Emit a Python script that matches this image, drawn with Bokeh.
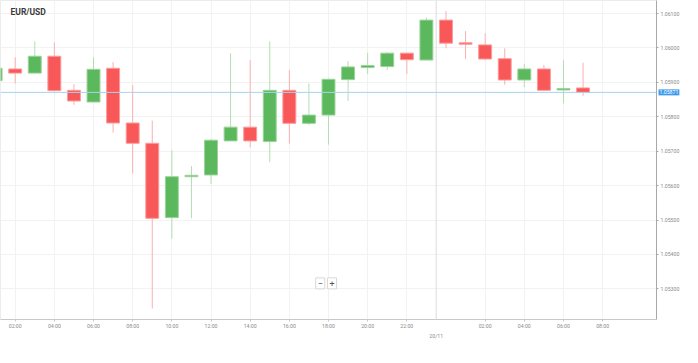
from bokeh.plotting import figure
from bokeh.models import (Range1d, FixedTicker, LinearAxis, PrintfTickFormatter,
                          Span, Label, ColumnDataSource)
from bokeh.embed import file_html
from bokeh.resources import INLINE

symbol = "EUR/USD"
candle_times = ["01:00", "02:00", "03:00", "04:00", "05:00", "06:00", "07:00", "08:00",
                "09:00", "10:00", "11:00", "12:00", "13:00", "14:00", "15:00", "16:00",
                "17:00", "18:00", "19:00", "20:00", "21:00", "22:00", "23:00",
                "00:00", "01:00", "02:00", "03:00", "04:00", "05:00", "06:00", "07:00"]
candle_days = [0] * 23 + [1] * 8
opens = [1.05905, 1.05939, 1.05927, 1.05976, 1.05877, 1.05843, 1.05941, 1.05782,
         1.05723, 1.05507, 1.05626, 1.05631, 1.05730, 1.05770, 1.05728, 1.05877,
         1.05781, 1.05805, 1.05908, 1.05943, 1.05946, 1.05985, 1.05965,
         1.06081, 1.06015, 1.06009, 1.05969, 1.05907, 1.05939, 1.05878, 1.05884]
highs = [1.05946, 1.05973, 1.06019, 1.06016, 1.05895, 1.05973, 1.05959, 1.05892,
         1.05789, 1.05703, 1.05657, 1.05735, 1.05984, 1.05965, 1.06019, 1.05936,
         1.05897, 1.05911, 1.05962, 1.05986, 1.05988, 1.05986, 1.06088,
         1.06107, 1.06049, 1.06043, 1.05999, 1.05954, 1.05951, 1.05965, 1.05957]
lows = [1.05903, 1.05897, 1.05926, 1.05874, 1.05835, 1.05843, 1.05754, 1.05635,
        1.05243, 1.05446, 1.05505, 1.05605, 1.05730, 1.05711, 1.05668, 1.05722,
        1.05776, 1.05719, 1.05846, 1.05924, 1.05936, 1.05924, 1.05964,
        1.05999, 1.05968, 1.05965, 1.05893, 1.05886, 1.05877, 1.05839, 1.05861]
closes = [1.05941, 1.05927, 1.05976, 1.05876, 1.05846, 1.05938, 1.05782, 1.05723,
          1.05505, 1.05626, 1.05630, 1.05732, 1.05770, 1.05730, 1.05877, 1.05781,
          1.05805, 1.05909, 1.05945, 1.05949, 1.05985, 1.05966, 1.06081,
          1.06014, 1.06011, 1.05968, 1.05907, 1.05939, 1.05877, 1.05882, 1.05871]
current_price = 1.05871

tick_labels = ["02:00", "04:00", "06:00", "08:00", "10:00", "12:00", "14:00", "16:00",
               "18:00", "20:00", "22:00", "02:00", "04:00", "06:00", "08:00"]
tick_days = [0] * 11 + [1] * 4
date_label = "20/11"
price_ticks = [1.053, 1.054, 1.055, 1.056, 1.057, 1.058, 1.059, 1.060, 1.061]

FONT = "Roboto"
GREEN, GREEN_LINE, GREEN_WICK = "#5cb85c", "#9ad49a", "#b3deb3"
RED, RED_LINE, RED_WICK = "#f95858", "#fb9b9b", "#fbb0b0"

first_hour = int(candle_times[0][:2])


def slot(day, hhmm):
    return day * 24 + int(hhmm[:2]) - first_hour


idx = [slot(d, t) for d, t in zip(candle_days, candle_times)]
up = [c >= o for o, c in zip(opens, closes)]


def subset(flag):
    sel = [i for i, u in enumerate(up) if u == flag]
    return ColumnDataSource(dict(
        x=[idx[i] for i in sel],
        top=[max(opens[i], closes[i]) for i in sel],
        bottom=[min(opens[i], closes[i]) for i in sel],
        high=[highs[i] for i in sel],
        low=[lows[i] for i in sel],
    ))


src_up, src_dn = subset(True), subset(False)

x_lo, x_hi = 0.25, 33.75
y_lo, y_hi = 1.05211, 1.06138
p = figure(width=682, height=347, output_backend="svg", toolbar_location=None,
           x_range=Range1d(x_lo, x_hi), y_range=Range1d(y_lo, y_hi),
           y_axis_location="right", min_border_left=0, min_border_top=0,
           min_border_right=0, min_border_bottom=0)
p.background_fill_color = "white"
p.border_fill_color = "white"
p.outline_line_color = "#ececec"

# grids
xt = [slot(d, t) for d, t in zip(tick_days, tick_labels)]
p.xaxis.ticker = FixedTicker(ticks=xt)
p.xaxis.major_label_overrides = {v: l for v, l in zip(xt, tick_labels)}
p.xgrid.ticker = FixedTicker(ticks=xt)
p.xgrid.grid_line_color = "#f2f2f2"
p.yaxis.ticker = FixedTicker(ticks=price_ticks)
p.ygrid.grid_line_color = "#f2f2f2"
p.yaxis.formatter = PrintfTickFormatter(format="%.5f")

for ax in (p.xaxis[0], p.yaxis[0]):
    ax.major_label_text_font = FONT
    ax.major_label_text_font_size = "5.2px"
    ax.major_label_text_color = "#8a8a8a"
    ax.minor_tick_line_color = None
    ax.major_tick_in = 0
    ax.major_tick_out = 2
    ax.major_label_standoff = 2
p.xaxis.major_label_standoff = 1
p.xaxis.axis_line_color = "#c8c8c8"
p.xaxis.major_tick_line_color = "#c8c8c8"
p.yaxis.axis_line_color = "#a8a8a8"
p.yaxis.major_tick_line_color = "#a8a8a8"

# date separator
sep = slot(1, "00:00") - 0.5
p.add_layout(Span(location=sep, dimension="height", line_color="#dcdcdc", line_width=1))
date_axis = LinearAxis(ticker=FixedTicker(ticks=[sep]),
                       major_label_overrides={sep: date_label})
date_axis.axis_line_color = None
date_axis.major_tick_line_color = None
date_axis.minor_tick_line_color = None
date_axis.major_tick_in = 0
date_axis.major_tick_out = 0
date_axis.major_label_text_font = FONT
date_axis.major_label_text_font_size = "5.2px"
date_axis.major_label_text_color = "#8a8a8a"
date_axis.major_label_standoff = 1
p.add_layout(date_axis, "below")

# current price line
p.add_layout(Span(location=current_price, dimension="width", line_color="#a6d4f0", line_width=1))

# candles
p.segment(x0="x", y0="low", x1="x", y1="high", source=src_up, line_color=GREEN_WICK, line_width=1)
p.segment(x0="x", y0="low", x1="x", y1="high", source=src_dn, line_color=RED_WICK, line_width=1)
p.vbar(x="x", top="top", bottom="bottom", width=0.66, source=src_up,
       fill_color=GREEN, line_color=GREEN_LINE, line_width=1)
p.vbar(x="x", top="top", bottom="bottom", width=0.66, source=src_dn,
       fill_color=RED, line_color=RED_LINE, line_width=1)

# title
p.add_layout(Label(x=x_lo, y=y_hi, x_offset=10, y_offset=-16, text=symbol,
                   text_font=FONT, text_font_size="8.5px", text_font_style="bold",
                   text_color="#3a3a3a"))

# current price tag on the axis (side-panel label, so it is not clipped to the frame)
p.add_layout(Label(x=x_hi, y=current_price, x_offset=2,
                   text=f"{current_price:.5f}",
                   text_baseline="middle", text_font=FONT, text_font_size="5.2px",
                   text_color="white", background_fill_color="#3d9be9",
                   background_fill_alpha=1.0, padding=1), "below")

# zoom buttons
for xo, sym in ((16.58, "\u2212"), (17.18, "+")):
    p.add_layout(Label(x=xo, y=1.05316, text=sym, text_align="center",
                       text_baseline="middle", text_font=FONT, text_font_size="9px",
                       text_color="#555", background_fill_color="white",
                       border_line_color="#d8d8d8", padding=2))

open("out.html", "w").write(file_html(p, INLINE))
